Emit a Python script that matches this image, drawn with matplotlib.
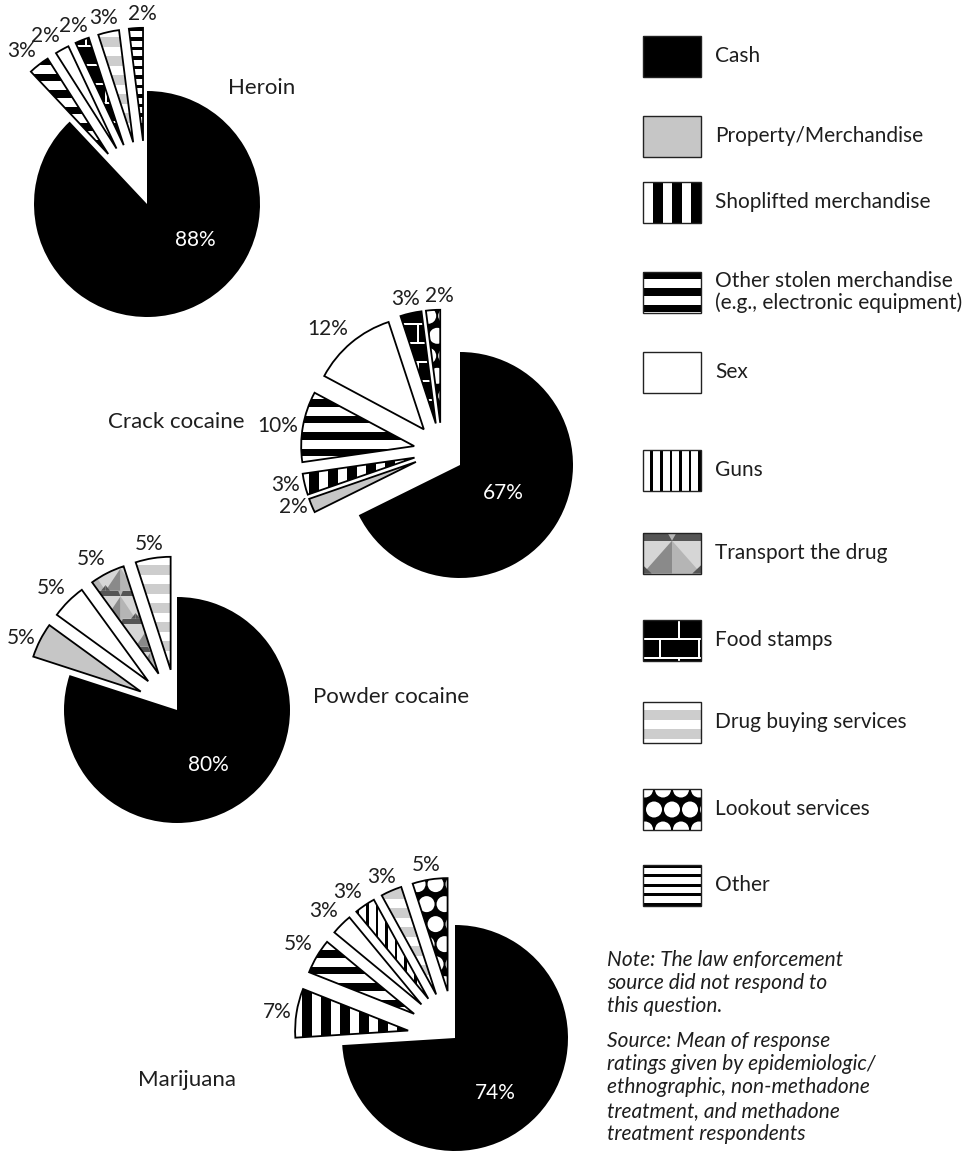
import numpy as np
import matplotlib.pyplot as plt
import matplotlib.patches as mpatches

plt.rcParams['font.family'] = ['Lato', 'DejaVu Sans']

W, H = 963, 1157

# legend entries (key, text)
cat_keys = ['cash', 'property', 'shoplifted', 'stolen', 'sex', 'guns',
            'transport', 'food', 'buying', 'lookout', 'other']
cat_labels = ['Cash', 'Property/Merchandise', 'Shoplifted merchandise',
              'Other stolen merchandise\n(e.g., electronic equipment)', 'Sex',
              'Guns', 'Transport the drug', 'Food stamps',
              'Drug buying services', 'Lookout services', 'Other']

# each pie runs clockwise from 12 o'clock, cash first
heroin_cats = ['cash', 'stolen', 'sex', 'food', 'buying', 'other']
heroin_pct = [88, 3, 2, 2, 3, 2]

crack_cats = ['cash', 'property', 'shoplifted', 'stolen', 'sex', 'food', 'lookout']
crack_pct = [67, 2, 3, 10, 12, 3, 2]

powder_cats = ['cash', 'property', 'sex', 'transport', 'buying']
powder_pct = [80, 5, 5, 5, 5]

marijuana_cats = ['cash', 'shoplifted', 'stolen', 'sex', 'guns', 'buying', 'lookout']
marijuana_pct = [74, 7, 5, 3, 3, 3, 5]

# layout in pixels (y measured from the top); small slices are pulled out
# radially by expl*R and then moved together by `shift`
R = 113
pies = [
    dict(name='Heroin', cats=heroin_cats, pct=heroin_pct, c=(147, 204), expl=0.56,
         shift=(0, 0), cash_off=(48, 36), title=(262, 88), ha='center'),
    dict(name='Crack cocaine', cats=crack_cats, pct=crack_pct, c=(460, 465), expl=0.25,
         shift=(-18, -14), cash_off=(43, 28), title=(245, 422), ha='right'),
    dict(name='Powder cocaine', cats=powder_cats, pct=powder_pct, c=(177, 710), expl=0.36,
         shift=(0, 0), cash_off=(31, 55), title=(313, 697), ha='left'),
    dict(name='Marijuana', cats=marijuana_cats, pct=marijuana_pct, c=(455, 1038), expl=0.42,
         shift=(0, 0), cash_off=(40, 55), title=(187, 1080), ha='center'),
]
legend_y = [56, 136, 202, 292, 372, 470, 553, 640, 722, 809, 885]
FS = 15


def Y(y):
    return H - y


def pattern(ax, key, clip, x0, y0, x1, y1):
    """Fill the box (x0, y0)-(x1, y1) with the fill for `key`, clipped to `clip`."""
    arts = []
    w, h = x1 - x0, y1 - y0
    base = {'cash': 'black', 'property': '#c6c6c6', 'food': 'black',
            'lookout': 'black', 'transport': '#d6d6d6'}.get(key, 'white')
    arts.append(mpatches.Rectangle((x0, y0), w, h, fc=base, ec='none'))
    if key in ('stolen', 'other', 'buying'):
        period, band, col, top = {'stolen': (16.5, 7.5, 'black', 0),
                                  'other': (9.5, 3.2, 'black', 0),
                                  'buying': (19, 10, '#cdcdcd', 8)}[key]
        for yy in np.arange(y1 - top - band, y0 - period, -period):
            arts.append(mpatches.Rectangle((x0, yy), w, band, fc=col, ec='none'))
    elif key in ('shoplifted', 'guns'):
        period, band = {'shoplifted': (19, 10), 'guns': (9.6, 2.6)}[key]
        for xx in np.arange(x1 - band, x0 - period, -period):
            arts.append(mpatches.Rectangle((xx, y0), band, h, fc='black', ec='none'))
    elif key == 'lookout':
        dx, dy, rad = 18, 20, 8
        for j, yy in enumerate(np.arange(y0, y1 + dy, dy)):
            off = 2 if j % 2 == 0 else 2 + dx / 2
            for xx in np.arange(x0 - dx + off, x1 + dx, dx):
                arts.append(mpatches.Circle((xx, yy), rad, fc='white', ec='none'))
    elif key == 'food':
        bw, bh, lw = 39, 19, 2
        for j, yy in enumerate(np.arange(y0 + 3 - bh, y1 + bh, bh)):
            arts.append(mpatches.Rectangle((x0, yy - lw / 2), w, lw, fc='white', ec='none'))
            off = 17 if j % 2 == 1 else 36
            for xx in np.arange(x0 + off - bw, x1 + bw, bw):
                arts.append(mpatches.Rectangle((xx - lw / 2, yy), lw, bh, fc='white', ec='none'))
    elif key == 'transport':
        tw, th = (w, h) if w < 80 and h < 60 else (30, 28)
        for ty in np.arange(y0, y1, th):
            for tx in np.arange(x0, x1, tw):
                top = ty + 0.8 * th
                arts += [
                    mpatches.Polygon([(tx, ty), (tx + tw / 2, top), (tx + tw / 2, ty)],
                                     fc='#8a8a8a', ec='none'),
                    mpatches.Polygon([(tx + tw / 2, ty), (tx + tw / 2, top), (tx + tw, ty)],
                                     fc='#b5b5b5', ec='none'),
                    mpatches.Rectangle((tx, top), tw, th - (top - ty), fc='#555555', ec='none'),
                    mpatches.Polygon([(tx + 0.42 * tw, ty + th), (tx + 0.58 * tw, ty + th),
                                      (tx + tw / 2, top)], fc='#b5b5b5', ec='none'),
                    mpatches.Polygon([(tx, ty), (tx + 0.15 * tw, ty), (tx, ty + 0.2 * th)],
                                     fc='#555555', ec='none'),
                    mpatches.Polygon([(tx + tw, ty), (tx + 0.85 * tw, ty), (tx + tw, ty + 0.2 * th)],
                                     fc='#555555', ec='none'),
                ]
    for a in arts:
        a.set_zorder(2)
        ax.add_patch(a)
        a.set_clip_path(clip)


def slice_label(ax, w, text):
    """Percentage just beyond the outer edge of an exploded slice."""
    wx, wy = w.center
    th = np.deg2rad((w.theta1 + w.theta2) / 2)
    c, s = np.cos(th), np.sin(th)
    x, y = wx + 1.04 * R * c, wy + 1.04 * R * s
    if abs(c) < 0.1:
        ha, x = 'left', x - 8
    elif abs(c) < 0.4:
        ha, x = 'center', x + 20 * c
    else:
        ha = 'right' if c < 0 else 'left'
    va = 'center' if abs(s) < 0.5 else ('bottom' if s > 0 else 'top')
    ax.text(x, y, text, fontsize=FS, ha=ha, va=va, color='#1e1e1e', zorder=5)


fig = plt.figure(figsize=(W / 100, H / 100), dpi=100)
ax = fig.add_axes([0, 0, 1, 1])

for p in pies:
    cx, cy = p['c'][0], Y(p['c'][1])
    n = len(p['pct'])
    explode = [0] + [p['expl'] * R] * (n - 1)
    wedges, _ = ax.pie(p['pct'], radius=R, center=(cx, cy), startangle=90,
                       counterclock=False, explode=explode, colors=['white'] * n,
                       wedgeprops=dict(linewidth=0, edgecolor='none'))
    for w, key, v in zip(wedges, p['cats'], p['pct']):
        if key == 'cash':
            pattern(ax, key, w, cx - R, cy - R, cx + R, cy + R)
            ax.text(cx + p['cash_off'][0], cy - p['cash_off'][1], f'{v}%',
                    color='white', fontsize=FS, ha='center', va='center', zorder=5)
            continue
        w.set_center((w.center[0] + p['shift'][0], w.center[1] - p['shift'][1]))
        wx, wy = w.center
        pattern(ax, key, w, wx - R, wy - R, wx + R, wy + R)
        ax.add_patch(mpatches.Wedge((wx, wy), w.r, w.theta1, w.theta2, fill=False,
                                    ec='black', lw=1.3, zorder=4))
        slice_label(ax, w, f'{v}%')
    ax.text(p['title'][0], Y(p['title'][1]), p['name'], fontsize=16,
            ha=p['ha'], va='center', color='#1e1e1e')

# legend swatches
sw, sh = 58, 41
for key, lab, yc in zip(cat_keys, cat_labels, legend_y):
    x0, y0 = 643, Y(yc) - sh / 2
    box = mpatches.Rectangle((x0, y0), sw, sh, fc='none', ec='#222222', lw=1.0, zorder=4)
    ax.add_patch(box)
    pattern(ax, key, box, x0, y0, x0 + sw, y0 + sh)
    ax.text(715, Y(yc), lab, fontsize=FS, ha='left', va='center', color='#1e1e1e',
            linespacing=1.1)

ax.text(607, Y(950), 'Note: The law enforcement\nsource did not respond to\nthis question.',
        fontsize=FS, style='italic', ha='left', va='top', linespacing=1.2, color='#1e1e1e')
ax.text(607, Y(1031), 'Source: Mean of response\nratings given by epidemiologic/\n'
        'ethnographic, non-methadone\ntreatment, and methadone\ntreatment respondents',
        fontsize=FS, style='italic', ha='left', va='top', linespacing=1.2, color='#1e1e1e')

ax.set_aspect('auto')
ax.set_xlim(0, W)
ax.set_ylim(0, H)
ax.axis('off')
fig.savefig('out.png', dpi=100)
